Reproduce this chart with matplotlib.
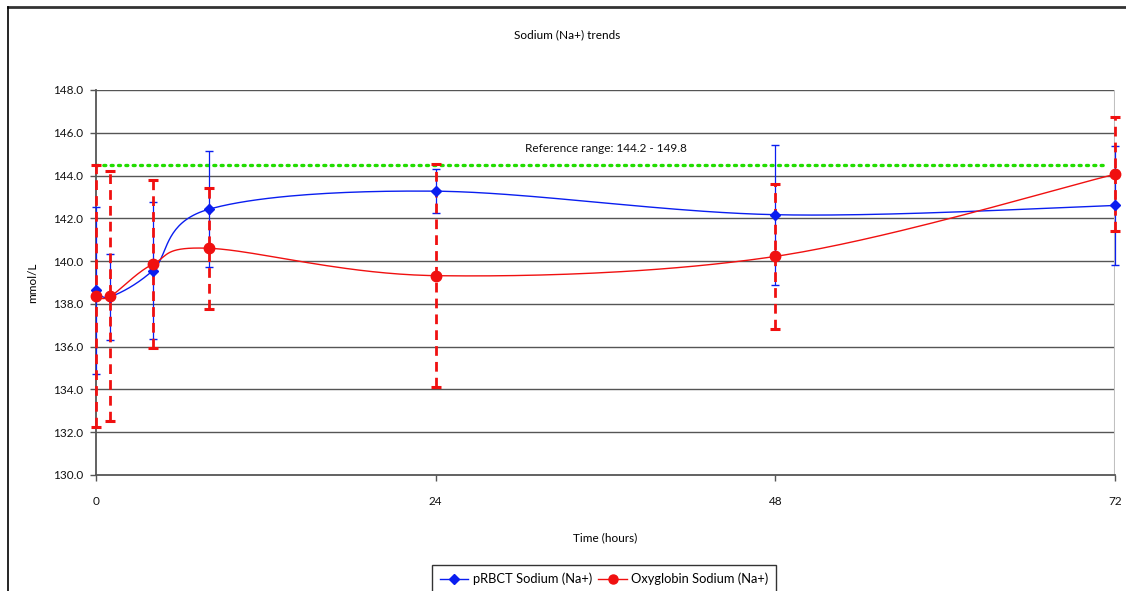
import numpy as np
import matplotlib
matplotlib.use("Agg")
import matplotlib.pyplot as plt
from matplotlib.lines import Line2D

# ---- data ----
hours = [0, 1, 4, 8, 24, 48, 72]
prbct_mean = [138.63, 138.33, 139.55, 142.43, 143.27, 142.17, 142.60]
prbct_err = [3.90, 2.00, 3.20, 2.72, 1.03, 3.27, 2.79]
oxy_mean = [138.38, 138.35, 139.85, 140.60, 139.32, 140.22, 144.06]
oxy_err = [6.13, 5.84, 3.92, 2.84, 5.20, 3.40, 2.67]
ref_level = 144.5
ref_label = "Reference range: 144.2 - 149.8"
x_ticks = [0, 24, 48, 72]
y_ticks = [130.0, 132.0, 134.0, 136.0, 138.0, 140.0, 142.0, 144.0, 146.0, 148.0]

FONT = "Lato"
plt.rcParams['font.family'] = [FONT, 'DejaVu Sans']

W, H = 1126, 591
fig = plt.figure(figsize=(W / 100, H / 100), dpi=100)
L, R, T, B = 96, 1115, 90, 475
ax = fig.add_axes([L / W, 1 - B / H, (R - L) / W, (B - T) / H])
ax.set_xlim(0, 72)
ax.set_ylim(130, 148)

px_x = (R - L) / 72.0
px_y = (B - T) / 18.0


def smooth(xs, ys, n=40):
    # Excel-like smoothed line (cardinal bezier) computed in pixel space
    P = np.column_stack([np.asarray(xs, float) * px_x, np.asarray(ys, float) * px_y])
    out = []
    m = len(P)
    for i in range(m - 1):
        p0 = P[i - 1] if i > 0 else P[i]
        p1 = P[i]
        p2 = P[i + 1]
        p3 = P[i + 2] if i + 2 < m else P[i + 1]
        c1 = p1 + (p2 - p0) / 6.0
        c2 = p2 - (p3 - p1) / 6.0
        t = np.linspace(0, 1, n)[:, None]
        seg = ((1 - t) ** 3) * p1 + 3 * ((1 - t) ** 2) * t * c1 + 3 * (1 - t) * t ** 2 * c2 + t ** 3 * p2
        out.append(seg if i == 0 else seg[1:])
    S = np.vstack(out)
    return S[:, 0] / px_x, S[:, 1] / px_y


# grid
for y in y_ticks[1:]:
    ax.axhline(y, color='#555555', lw=1.0, zorder=1)
ax.axvline(72, color='#c0c0c0', lw=1.5, zorder=1)

# reference line
ax.plot([0, 71.4], [ref_level, ref_level], color='#22dd00', lw=2.4,
        linestyle=(0, (0.6, 1.6)), dash_capstyle='round', zorder=2)
ax.text(36, 145.25, ref_label, ha='center', va='center', fontsize=8.5, color='#111111')

blue = '#0a1ef0'
red = '#f01010'

# blue error bars
eb1 = ax.errorbar(hours, prbct_mean, yerr=prbct_err, fmt='none', ecolor=blue,
                  elinewidth=0.9, capsize=3, capthick=1.0, zorder=3)
for c in eb1[1]:
    c.set_color('#6f7cff')
    c.set_clip_on(False)
for lc in eb1[2]:
    lc.set_clip_on(False)
# red error bars (dashed)
eb2 = ax.errorbar(hours, oxy_mean, yerr=oxy_err, fmt='none', ecolor=red,
                  elinewidth=2.0, capsize=3.5, capthick=2.2, zorder=4)
for lc in eb2[2]:
    lc.set_linestyle((0, (3.5, 2.2)))
    lc.set_clip_on(False)
for c in eb2[1]:
    c.set_clip_on(False)

# smoothed lines
bx, by = smooth(hours, prbct_mean)
ax.plot(bx, by, color=blue, lw=1.0, zorder=5, clip_on=False)
rx, ry = smooth(hours, oxy_mean)
ax.plot(rx, ry, color=red, lw=1.0, zorder=5, clip_on=False)
ax.plot(hours, prbct_mean, linestyle='none', marker='D', ms=5.5, color=blue, zorder=6, clip_on=False)
ax.plot(hours, oxy_mean, linestyle='none', marker='o', ms=7.5, color=red, zorder=6, clip_on=False)

# axes styling
for s in ['top', 'right']:
    ax.spines[s].set_visible(False)
ax.spines['left'].set_color('#555555')
ax.spines['bottom'].set_color('#555555')
ax.spines['left'].set_linewidth(1.3)
ax.spines['bottom'].set_linewidth(1.3)
ax.set_xticks(x_ticks)
ax.set_xticklabels([str(v) for v in x_ticks])
ax.set_yticks(y_ticks)
ax.set_yticklabels([f"{v:.1f}" for v in y_ticks])
ax.tick_params(axis='both', colors='#555555', labelcolor='#111111', labelsize=8.5,
               direction='out', length=4, width=1)
ax.tick_params(axis='x', pad=11)
ax.tick_params(axis='y', pad=5)

ax.set_xlabel("Time (hours)", fontsize=8.5, labelpad=18)
ax.set_ylabel("mmol/L", fontsize=8.5, labelpad=11)
fig.text(567 / W, 1 - 35 / H, "Sodium (Na+) trends", ha='center', va='center', fontsize=8.5)

# legend
handles = [Line2D([], [], color=blue, marker='D', ms=5, lw=1.0),
           Line2D([], [], color=red, marker='o', ms=6.5, lw=1.0)]
leg = fig.legend(handles, ["pRBCT Sodium (Na+)", "Oxyglobin Sodium (Na+)"],
                 loc='upper left', bbox_to_anchor=(432 / W, 1 - 565 / H), ncol=2,
                 fontsize=9.3, frameon=True, fancybox=False, borderpad=0.6,
                 handlelength=2.2, handletextpad=0.35, columnspacing=0.5,
                 borderaxespad=0)
leg.get_frame().set_edgecolor('#000000')
leg.get_frame().set_linewidth(1.0)

# outer frame (partial)
fig.add_artist(Line2D([8 / W, 1], [1 - 6.5 / H, 1 - 6.5 / H], transform=fig.transFigure,
                      color='#333333', lw=2.0))
fig.add_artist(Line2D([8 / W, 8 / W], [0, 1 - 6.5 / H], transform=fig.transFigure,
                      color='#000000', lw=1.2))

fig.savefig("out.png", dpi=100)
